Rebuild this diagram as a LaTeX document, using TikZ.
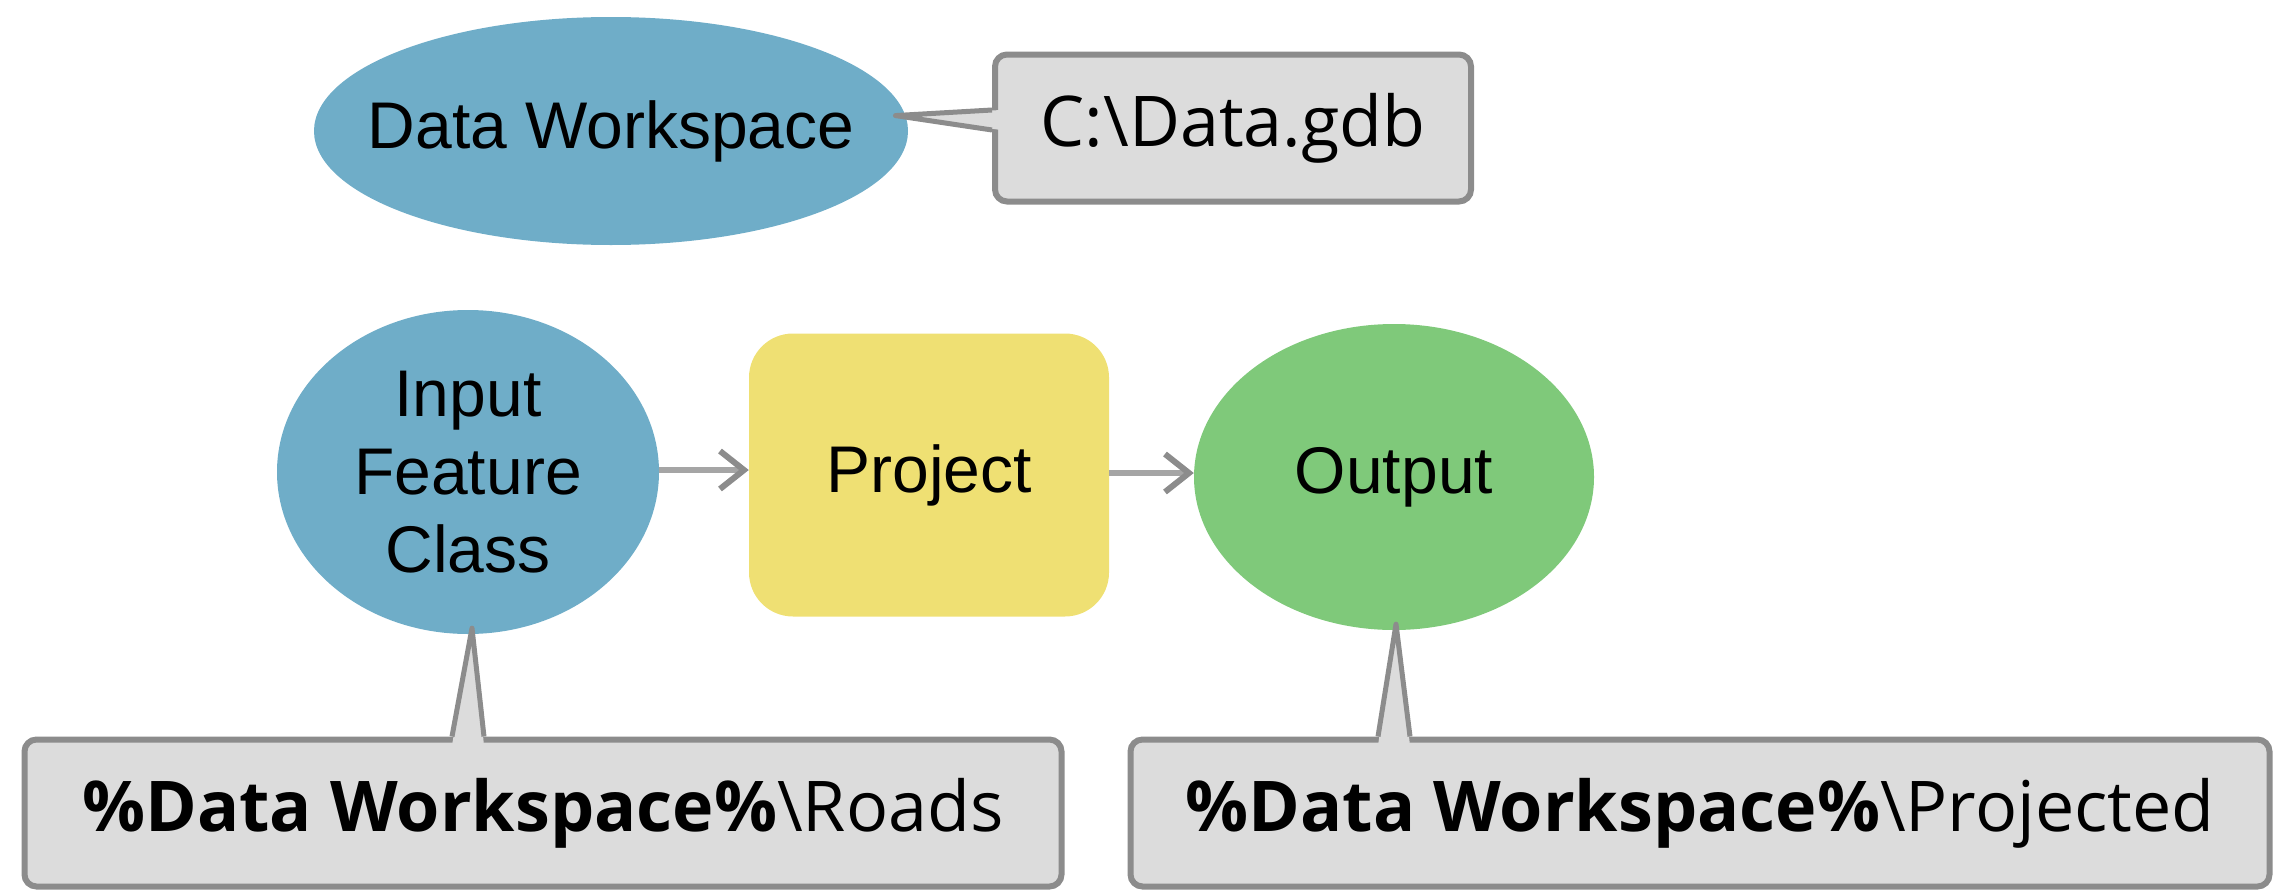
\documentclass[tikz,border=0pt]{standalone}
\usepackage{fontspec}
\setmainfont{Liberation Sans}
\newfontfamily\notefont{Open Sans}
\usetikzlibrary{shapes.geometric,arrows.meta}

\definecolor{wsblue}{RGB}{111,173,200}
\definecolor{toolyellow}{RGB}{239,224,115}
\definecolor{outgreen}{RGB}{127,201,122}
\definecolor{notefill}{RGB}{220,220,220}
\definecolor{noteline}{RGB}{140,140,140}
\definecolor{flowgray}{RGB}{165,165,165}
\definecolor{flowhead}{RGB}{140,140,140}

\begin{document}
\begin{tikzpicture}[x=1pt,y=-1pt,
  labelfont/.style={font=\fontsize{66}{78}\selectfont},
  var/.style={ellipse, inner sep=0pt, fill=wsblue, labelfont, align=center},
  tool/.style={rectangle, rounded corners=44pt, inner sep=0pt, fill=toolyellow, labelfont},
  outvar/.style={ellipse, inner sep=0pt, fill=outgreen, labelfont},
  note/.style={rectangle, rounded corners=12pt, fill=notefill, draw=noteline,
    line width=6pt, inner sep=0pt, font=\notefont\fontsize{70}{84}\selectfont},
  pointerfill/.style={fill=notefill},
  pointerline/.style={draw=noteline, line width=5pt, line join=round},
  flow/.style={draw=flowgray, line width=6pt,
    -{Straight Barb[length=24pt,width=38pt,line width=6pt,color=flowhead]}}]

\useasboundingbox (0,0) rectangle (2288,894);

% model elements
\node[var, minimum width=594pt, minimum height=228pt] (ws) at (611,131) {\makebox[0pt]{Data Workspace}};
\node[var, minimum width=382pt, minimum height=324pt] (ifc) at (468,472) {Input\\Feature\\Class};
\node[tool, minimum width=360pt, minimum height=283pt] (proj) at (929,475) {Project};
\node[outvar, minimum width=400pt, minimum height=306pt] (out) at (1394,477) {Output};

% flow connectors
\draw[flow] ([yshift=2pt]ifc.east) -- ([yshift=2pt]ifc.east -| proj.west);
\draw[flow] ([yshift=2pt]proj.east) -- ([yshift=2pt]proj.east -| out.west);

% value notes
\node[note, minimum width=476pt, minimum height=147pt] (gdb) at (1233,128) {C:\textbackslash Data.gdb};
\node[note, minimum width=1037pt, minimum height=147pt] (roads) at (543,813)
  {{\bfseries\%Data Workspace\%}\textbackslash Roads};
\node[note, minimum width=1139pt, minimum height=147pt] (projected) at (1700,813)
  {{\bfseries\%Data Workspace\%}\textbackslash Projected};

% note pointers
\coordinate (gdb base) at ([yshift=8pt]gdb.west);
\coordinate (ws tip) at ([xshift=-10pt]ws.3);
\fill[pointerfill] ([xshift=9pt,yshift=10pt]gdb base) -- (ws tip) -- ([xshift=9pt,yshift=-10pt]gdb base) -- cycle;
\draw[pointerline] ([yshift=10pt]gdb base) -- (ws tip) -- ([yshift=-10pt]gdb base);

\coordinate (roads base) at (roads.north -| ifc.south);
\coordinate (ifc tip) at ([xshift=4pt,yshift=6pt]ifc.south);
\fill[pointerfill] ([xshift=-16pt,yshift=-9pt]roads base) -- (ifc tip) -- ([xshift=16pt,yshift=-9pt]roads base) -- cycle;
\draw[pointerline] ([xshift=-16pt]roads base) -- (ifc tip) -- ([xshift=16pt]roads base);

\coordinate (proj base) at (projected.north -| out.south);
\coordinate (out tip) at ([xshift=2pt,yshift=6pt]out.south);
\fill[pointerfill] ([xshift=-16pt,yshift=-9pt]proj base) -- (out tip) -- ([xshift=16pt,yshift=-9pt]proj base) -- cycle;
\draw[pointerline] ([xshift=-16pt]proj base) -- (out tip) -- ([xshift=16pt]proj base);
\end{tikzpicture}
\end{document}
